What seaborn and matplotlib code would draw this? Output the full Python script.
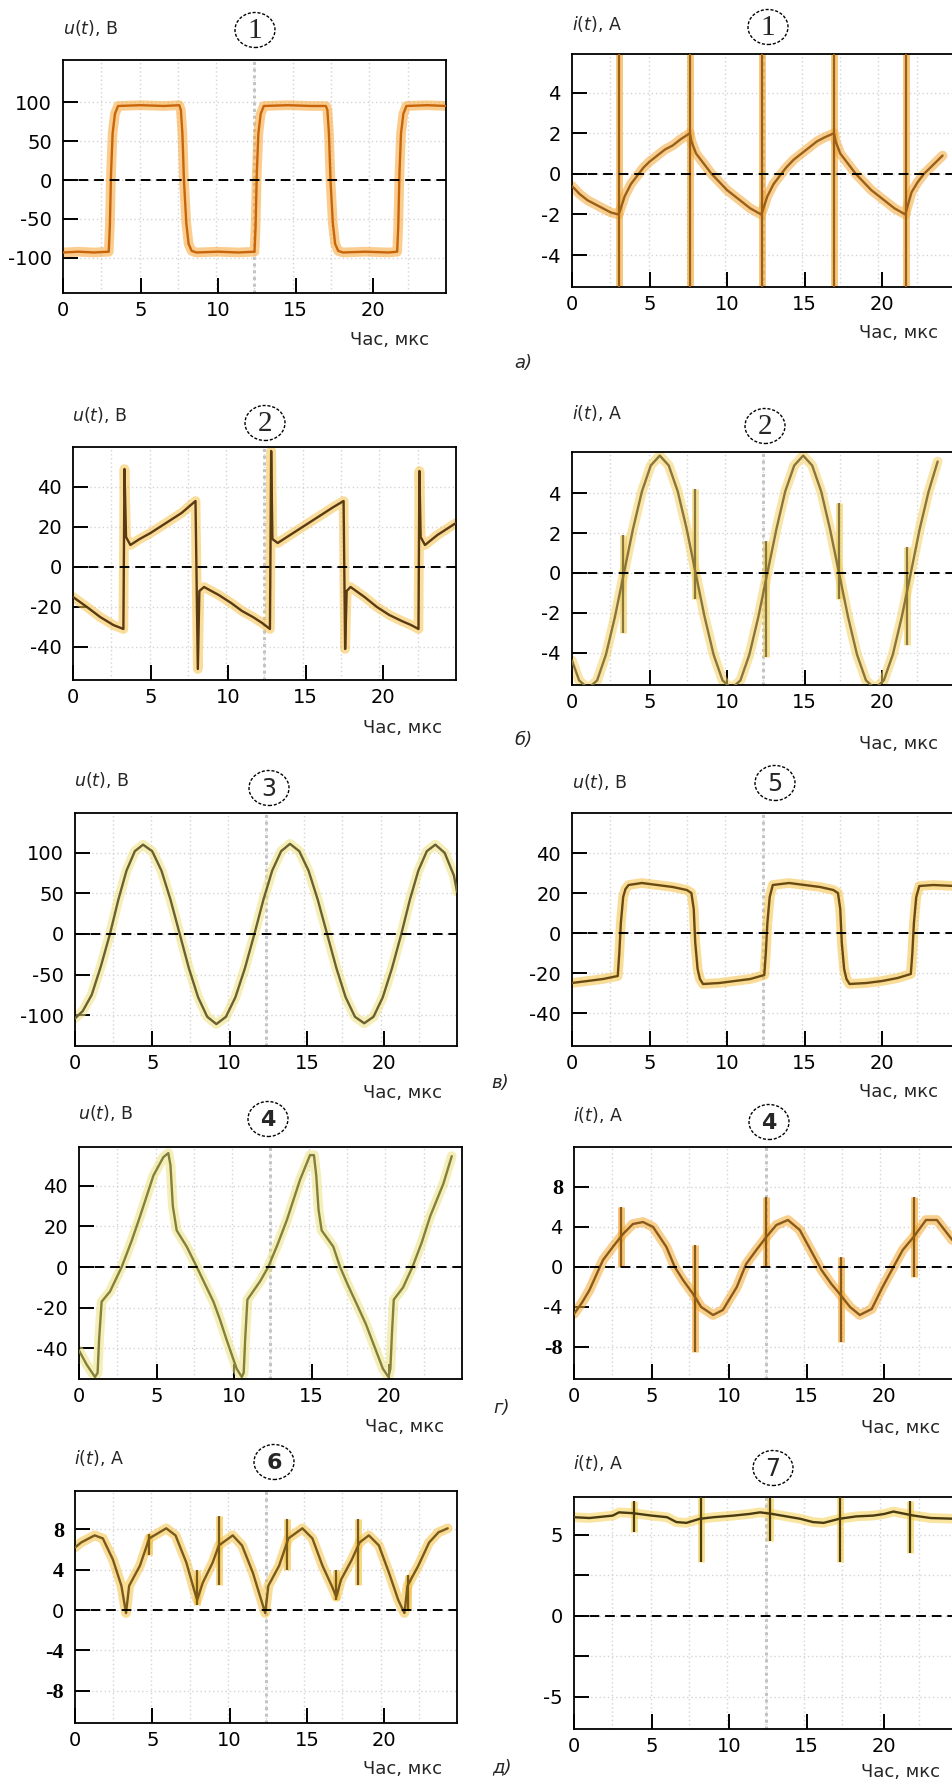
import numpy as np
import matplotlib
matplotlib.use("Agg")
import matplotlib.pyplot as plt
from matplotlib.patches import Ellipse
import seaborn as sns

# ---------------- data ----------------
x_ticks = [0, 5, 10, 15, 20]
x_ticklabels = ["0", "5", "10", "15", "20"]

# panel 1, u(t)
u1_t = [0.0, 1.0, 2.0, 2.95, 3.02, 3.1, 3.2, 3.35, 3.55, 5.0, 6.5, 7.5,
        7.6, 7.7, 7.8, 7.95, 8.1, 8.3, 8.6, 10.0, 11.3, 12.35,
        12.42, 12.5, 12.6, 12.75, 12.95, 14.5, 16.0, 16.95,
        17.05, 17.15, 17.25, 17.4, 17.55, 17.75, 18.05, 19.5, 21.0, 21.55,
        21.62, 21.7, 21.8, 21.95, 22.15, 23.5, 24.7]
u1_v = [-93, -92, -93, -92, -60, 10, 60, 85, 95, 96, 95, 96,
        90, 60, 0, -55, -82, -91, -93, -92, -93, -92,
        -60, 10, 60, 85, 95, 96, 95, 95,
        90, 60, 0, -55, -82, -91, -93, -92, -93, -92,
        -60, 10, 60, 85, 95, 96, 95]
u1_yticks = [-100, -50, 0, 50, 100]

# panel 1, i(t)
i1_t = [0.0, 0.5, 1.0, 1.5, 2.0, 2.5, 3.0,
        3.1, 3.4, 3.8, 4.2, 4.6, 5.0, 5.5, 6.0, 6.5, 7.0, 7.6,
        7.7, 8.0, 8.5, 9.0, 9.5, 10.0, 10.5, 11.0, 11.5, 12.2,
        12.3, 12.6, 13.0, 13.4, 13.8, 14.3, 14.8, 15.3, 15.8, 16.3, 16.9,
        17.0, 17.3, 17.8, 18.3, 18.8, 19.3, 19.8, 20.3, 20.8, 21.5,
        21.6, 21.9, 22.3, 22.7, 23.1, 23.5, 23.9]
i1_v = [-0.6, -1.0, -1.3, -1.5, -1.7, -1.9, -2.0,
        -1.8, -1.1, -0.5, -0.1, 0.3, 0.6, 0.9, 1.2, 1.4, 1.7, 2.0,
        1.6, 1.0, 0.5, 0.0, -0.4, -0.8, -1.1, -1.4, -1.7, -2.0,
        -1.8, -1.1, -0.5, -0.1, 0.3, 0.7, 1.0, 1.3, 1.6, 1.8, 2.0,
        1.6, 1.0, 0.5, 0.0, -0.4, -0.8, -1.1, -1.4, -1.7, -2.0,
        -1.7, -0.9, -0.4, 0.0, 0.3, 0.6, 0.9]
i1_spike_t = [3.03, 7.63, 12.26, 16.92, 21.56]
i1_spike_lo = [-7, -7, -7, -7, -7]
i1_spike_hi = [7, 7, 7, 7, 7]
i1_yticks = [-4, -2, 0, 2, 4]

# panel 2, u(t)
u2_t = [0.0, 0.9, 1.75, 2.6, 3.25,
        3.32, 3.42, 3.7, 4.3, 5.0, 6.0, 7.0, 7.9,
        8.05, 8.15, 8.45, 9.4, 10.2, 10.9, 11.6, 12.2, 12.7,
        12.78, 12.86, 13.2, 14.0, 15.0, 16.0, 16.8, 17.45,
        17.55, 17.65, 17.9, 18.8, 19.6, 20.4, 21.2, 21.8, 22.28,
        22.34, 22.42, 22.7, 23.5, 24.7]
u2_v = [-15, -20, -25, -29, -31,
        49, 15, 11, 14, 17, 22, 27, 33,
        -51, -12, -10, -14, -18, -22, -25, -28, -31,
        58, 14, 12, 16, 21, 26, 30, 33,
        -41, -12, -10, -15, -20, -24, -27, -29, -31,
        48, 15, 11, 16, 22]
u2_yticks = [-40, -20, 0, 20, 40]

# panel 2, i(t)
i2_t = [0.0, 0.46, 1.04, 1.62, 2.19, 2.77, 3.35, 3.93, 4.51, 5.08, 5.66,
        6.24, 6.82, 7.40, 7.97, 8.55, 9.13, 9.71, 10.29, 10.86, 11.44,
        12.02, 12.60, 13.18, 13.75, 14.33, 14.91, 15.49, 16.07, 16.64,
        17.22, 17.80, 18.38, 18.96, 19.53, 20.11, 20.69, 21.27, 21.85,
        22.42, 23.00, 23.58]
i2_v = [-4.4, -5.4, -5.8, -5.4, -4.1, -2.2, 0.0, 2.2, 4.1, 5.4, 5.9,
        5.4, 4.1, 2.2, 0.0, -2.2, -4.1, -5.4, -5.8, -5.4, -4.1,
        -2.2, 0.0, 2.2, 4.1, 5.4, 5.9, 5.4, 4.1, 2.2,
        0.0, -2.2, -4.1, -5.4, -5.8, -5.4, -4.1, -2.2, 0.0,
        2.2, 4.1, 5.6]
i2_spike_t = [3.3, 7.95, 12.5, 17.2, 21.6]
i2_spike_lo = [-3.0, -1.3, -4.2, -1.3, -3.6]
i2_spike_hi = [1.9, 4.2, 1.6, 3.5, 1.3]
i2_yticks = [-4, -2, 0, 2, 4]

# panel 3, u(t)
u3_t = [0.0, 0.5, 1.08, 1.67, 2.26, 2.80, 3.33, 3.87, 4.40, 4.99, 5.59,
        6.18, 6.77, 7.36, 7.96, 8.55, 9.14, 9.76, 10.37, 10.99, 11.60,
        12.18, 12.75, 13.33, 13.90, 14.50, 15.10, 15.70, 16.30, 16.90,
        17.50, 18.10, 18.70, 19.30, 19.90, 20.50, 21.10, 21.65, 22.20,
        22.75, 23.30, 23.90, 24.50, 24.70]
u3_v = [-104, -95, -75, -40, 0, 42, 78, 102, 110, 102, 78,
        42, 0, -42, -78, -102, -111, -102, -78, -42, 0,
        42, 78, 102, 111, 102, 78, 42, 0, -42,
        -78, -102, -110, -102, -78, -42, 0, 42, 78,
        102, 110, 100, 72, 52]
u3_yticks = [-100, -50, 0, 50, 100]

# panel 5, u(t)
u5_t = [0.0, 1.0, 2.0, 2.95, 3.05, 3.15, 3.3, 3.45, 3.65,
        4.5, 5.5, 6.5, 7.4, 7.7, 7.85, 7.95, 8.1, 8.25, 8.45,
        9.5, 10.5, 11.5, 12.4, 12.5, 12.6, 12.75, 12.95,
        14.0, 15.0, 16.0, 16.85, 17.15, 17.3, 17.4, 17.55, 17.7, 17.9,
        19.0, 20.0, 21.0, 21.85, 21.95, 22.05, 22.2, 22.4, 23.3, 24.7]
u5_v = [-25, -24, -23, -21.5, -10, 5, 18, 22, 24,
        25, 24, 23, 21.5, 20, 12, -5, -18, -23, -25.5,
        -25, -24, -23, -21, -10, 5, 18, 24,
        25, 24, 23, 21.5, 20, 12, -5, -18, -23, -25.5,
        -25, -24, -22.5, -20.5, -10, 5, 18, 23.5, 24, 23.5]
u5_yticks = [-40, -20, 0, 20, 40]

# panel 4, u(t)
u4_t = [0.0, 0.5, 1.03, 1.2, 1.3, 1.46, 2.0, 2.75, 3.4, 3.94, 4.8, 5.44,
        5.76, 5.9, 6.05, 6.3, 6.95, 7.6, 8.1, 8.67, 9.1, 9.53, 10.17, 10.5,
        10.62, 10.72, 10.86, 11.68, 12.2, 12.8, 13.4, 14.26, 14.9, 15.15,
        15.3, 15.45, 15.65, 16.4, 16.84, 17.35, 17.9, 18.5, 19.0, 19.6,
        19.96, 20.08, 20.18, 20.3, 20.9, 21.5, 22.1, 22.65, 23.5, 24.04]
u4_v = [-41, -48, -54, -52, -35, -17, -12, 0, 13, 25, 45, 54,
        56, 50, 30, 18, 10, 0, -8, -17, -26, -36, -50, -54,
        -52, -35, -16, -7, 0, 11, 23, 43, 55, 55,
        45, 28, 18, 10, 0, -9, -18, -28, -38, -50,
        -54, -50, -33, -16, -10, 0, 12, 25, 41, 54.5]
u4_yticks = [-40, -20, 0, 20, 40]

# panel 4, i(t)
i4_t = [0.0, 0.5, 1.0, 1.87, 2.5, 3.16, 3.8, 4.45, 5.1, 5.96,
        6.5, 7.03, 7.68, 8.2, 8.97, 9.6, 10.5, 11.1, 11.76, 12.4,
        13.05, 13.8, 14.56, 15.4, 15.96, 16.6, 17.14, 17.8, 18.43, 19.2,
        19.9, 20.6, 21.2, 21.9, 22.7, 23.4, 24.4]
i4_v = [-4.7, -3.6, -2.3, 0.7, 2.0, 3.3, 4.3, 4.5, 4.0, 2.0,
        0.0, -1.3, -2.7, -4.0, -4.8, -4.3, -2.0, 0.3, 1.7, 3.0,
        4.2, 4.7, 3.7, 1.3, -0.3, -1.7, -2.7, -4.0, -4.8, -4.2,
        -2.0, 0.0, 1.7, 3.0, 4.7, 4.7, 2.7]
i4_spike_t = [3.05, 7.8, 12.4, 17.2, 21.9]
i4_spike_lo = [0.0, -8.5, 0.0, -7.5, -1.0]
i4_spike_hi = [6.0, 2.2, 7.0, 1.0, 7.0]
i4_yticks = [-8, -4, 0, 4, 8]

# panel 6, i(t)
i6_t = [0.0, 0.4, 1.27, 1.8, 2.45, 3.0, 3.3, 3.5, 4.2, 4.8,
        5.9, 6.5, 7.2, 7.7, 7.9, 8.26, 8.9, 9.3, 10.2, 10.8,
        11.5, 12.1, 12.3, 12.5, 13.2, 13.8, 14.7, 15.35, 16.0, 16.6,
        16.9, 17.2, 17.9, 18.4, 19.0, 19.65, 20.3, 20.9, 21.3, 21.5,
        22.2, 22.9, 23.5, 24.1]
i6_v = [6.2, 6.7, 7.4, 7.1, 5.0, 2.4, -0.3, 2.4, 4.4, 7.1,
        8.1, 7.4, 4.7, 2.0, 1.0, 2.7, 4.7, 6.4, 7.4, 6.4,
        3.7, 0.7, -0.3, 2.4, 4.4, 7.1, 8.1, 7.1, 4.4, 2.4,
        1.3, 3.0, 5.0, 6.7, 7.4, 6.4, 3.7, 1.0, -0.3, 2.4,
        4.4, 6.7, 7.7, 8.1]
i6_spike_t = [4.8, 7.9, 9.33, 13.7, 16.9, 18.3, 21.5]
i6_spike_lo = [5.5, 0.5, 2.5, 4.0, 1.0, 2.5, 0.0]
i6_spike_hi = [7.5, 4.0, 9.3, 9.0, 4.0, 9.0, 3.5]
i6_yticks = [-8, -4, 0, 4, 8]

# panel 7, i(t)
i7_t = [0.0, 1.0, 2.0, 2.5, 2.9, 3.8, 5.0, 6.0, 6.6, 7.25,
        8.1, 9.0, 10.3, 11.3, 12.0, 12.8, 13.7, 14.6, 15.4, 16.1,
        17.1, 18.2, 19.3, 20.0, 20.6, 21.9, 23.0, 24.7]
i7_v = [6.1, 6.05, 6.15, 6.2, 6.4, 6.35, 6.2, 6.1, 5.8, 5.75,
        6.0, 6.1, 6.2, 6.3, 6.4, 6.3, 6.15, 6.0, 5.8, 5.75,
        6.0, 6.15, 6.2, 6.3, 6.45, 6.2, 6.05, 6.0]
i7_spike_t = [3.85, 8.2, 12.67, 17.14, 21.7]
i7_spike_lo = [5.2, 3.3, 4.6, 3.3, 3.9]
i7_spike_hi = [7.1, 7.8, 7.3, 7.8, 7.1]
i7_yticks = [-5, -2.5, 0, 2.5, 5]
i7_yticklabels = ["-5", "", "0", "", "5"]

x_label = "Час, мкс"
u_label = r"$\mathit{u(t)}$, В"
i_label = r"$\mathit{i(t)}$, А"

# ---------------- figure ----------------
sns.set_style("white")
plt.rcParams['font.family'] = ['DejaVu Sans']
plt.rcParams['mathtext.fontset'] = 'dejavusans'

W, H = 953, 1787
fig = plt.figure(figsize=(W / 100, H / 100), dpi=100)
fig.patch.set_facecolor("white")

XMAX = 24.7
grid_x = np.linspace(0, XMAX, 11)[1:-1]


def px_axes(l, t, r, b):
    return fig.add_axes([l / W, 1 - b / H, (r - l) / W, (b - t) / H])


def ftext(x, y, s, **kw):
    fig.text(x / W, 1 - y / H, s, **kw)


def circled(x, y, s, family="DejaVu Sans", size=16, weight="normal"):
    e = Ellipse((x / W, 1 - y / H), 40 / W, 35 / H, transform=fig.transFigure,
                fill=False, ec="black", lw=1.0, ls=(0, (2.2, 1.3)))
    fig.add_artist(e)
    ftext(x, y + 1, s, ha="center", va="center", fontsize=size,
          family=family, weight=weight)


def panel(box, t, v, ylim, yticks, glow, core, ytl=None, spikes=None,
          bold_labels=()):
    ax = px_axes(*box)
    ax.set_facecolor("white")
    for gx in grid_x:
        ax.axvline(gx, color="#d4d4d4", ls=(0, (1, 2)), lw=1.0, zorder=0)
    ax.axvline(XMAX / 2, color="#c4c4c4", ls=(0, (1, 1.2)), lw=2.2, zorder=0)
    for gy in yticks:
        ax.axhline(gy, color="#d4d4d4", ls=(0, (1, 2)), lw=1.0, zorder=0)
    if spikes is not None:
        st, lo, hi = spikes
        ax.vlines(st, lo, hi, colors=glow, lw=5, alpha=0.65, zorder=2)
        ax.vlines(st, lo, hi, colors=core, lw=1.6, zorder=3)
    sns.lineplot(x=t, y=v, ax=ax, color=glow, lw=7, alpha=0.55,
                 sort=False, estimator=None, zorder=2)
    sns.lineplot(x=t, y=v, ax=ax, color=core, lw=1.7,
                 sort=False, estimator=None, zorder=3)
    ax.axhline(0, color="black", ls=(0, (5, 3)), lw=1.4, zorder=5)
    ax.set_xlim(0, XMAX)
    ax.set_ylim(*ylim)
    ax.set_xticks(x_ticks)
    ax.set_xticklabels(x_ticklabels)
    ax.set_yticks(yticks)
    labels = ytl if ytl is not None else [("%g" % y) for y in yticks]
    ax.set_yticklabels(labels)
    ax.set_xlabel("")
    ax.set_ylabel("")
    ax.tick_params(direction="in", length=11, width=1.4, pad=8,
                   labelsize=14, left=True, bottom=True, top=False,
                   right=False, colors="black")
    ax.tick_params(axis="x", pad=6)
    for lab in ax.get_yticklabels():
        if lab.get_text() in bold_labels:
            lab.set_family("Liberation Serif")
            lab.set_weight("bold")
            lab.set_fontsize(16)
    for s in ax.spines.values():
        s.set_linewidth(1.3)
        s.set_color("black")
        s.set_visible(True)
    return ax


# ---- row a) ----
panel((63, 60, 446, 293), u1_t, u1_v, (-145, 154), u1_yticks,
      "#f7a531", "#c8650a")
ftext(63, 28, u_label, ha="left", va="center", fontsize=12.5)
circled(255, 30, "1", family="Liberation Serif", size=21)
ftext(390, 340, x_label, ha="center", va="center", fontsize=13)

panel((572, 54, 955, 287), i1_t, i1_v, (-5.57, 5.9), i1_yticks,
      "#f5a838", "#9a6018",
      spikes=(i1_spike_t, i1_spike_lo, i1_spike_hi))
ftext(572, 24, i_label, ha="left", va="center", fontsize=12.5)
circled(768, 27, "1", family="Liberation Serif", size=21)
ftext(899, 333, x_label, ha="center", va="center", fontsize=13)
ftext(523, 363, "а)", ha="center", va="center", fontsize=13, style="italic")

# ---- row б) ----
panel((73, 447, 456, 680), u2_t, u2_v, (-56.5, 60), u2_yticks,
      "#f6c24a", "#5a3a10")
ftext(72, 415, u_label, ha="left", va="center", fontsize=12.5)
circled(265, 423, "2", family="Liberation Serif", size=21)
ftext(403, 728, x_label, ha="center", va="center", fontsize=13)

panel((572, 452, 955, 685), i2_t, i2_v, (-5.63, 6.08), i2_yticks,
      "#f3d060", "#8a7638",
      spikes=(i2_spike_t, i2_spike_lo, i2_spike_hi))
ftext(572, 413, i_label, ha="left", va="center", fontsize=12.5)
circled(765, 426, "2", family="Liberation Serif", size=21)
ftext(899, 744, x_label, ha="center", va="center", fontsize=13)
ftext(523, 740, "б)", ha="center", va="center", fontsize=13, style="italic")

# ---- row в) ----
panel((75, 813, 457, 1046), u3_t, u3_v, (-138, 149), u3_yticks,
      "#efe07c", "#6a6030")
ftext(74, 780, u_label, ha="left", va="center", fontsize=12.5)
circled(269, 788, "3", size=17)
ftext(403, 1093, x_label, ha="center", va="center", fontsize=13)

panel((572, 813, 955, 1046), u5_t, u5_v, (-56.5, 60), u5_yticks,
      "#f5c040", "#6a4a10")
ftext(572, 782, u_label, ha="left", va="center", fontsize=12.5)
circled(775, 783, "5", size=17)
ftext(899, 1092, x_label, ha="center", va="center", fontsize=13)
ftext(500, 1083, "в)", ha="center", va="center", fontsize=13, style="italic")

# ---- row г) ----
panel((79, 1147, 462, 1379), u4_t, u4_v, (-55, 59), u4_yticks,
      "#ece27e", "#84803c")
ftext(78, 1113, u_label, ha="left", va="center", fontsize=12.5)
circled(268, 1119, "4", size=16, weight="bold")
ftext(405, 1427, x_label, ha="center", va="center", fontsize=13)

panel((574, 1147, 957, 1379), i4_t, i4_v, (-11.2, 12), i4_yticks,
      "#f5a830", "#8a5a18",
      spikes=(i4_spike_t, i4_spike_lo, i4_spike_hi),
      bold_labels=("8", "-8"))
ftext(573, 1115, i_label, ha="left", va="center", fontsize=12.5)
circled(769, 1122, "4", size=16, weight="bold")
ftext(901, 1428, x_label, ha="center", va="center", fontsize=13)
ftext(502, 1408, "г)", ha="center", va="center", fontsize=13, style="italic")

# ---- row д) ----
panel((75, 1491, 457, 1723), i6_t, i6_v, (-11.2, 11.8), i6_yticks,
      "#f5c040", "#7a5a18",
      spikes=(i6_spike_t, i6_spike_lo, i6_spike_hi),
      bold_labels=("8", "4", "-4", "-8"))
ftext(74, 1458, i_label, ha="left", va="center", fontsize=12.5)
circled(274, 1462, "6", size=16, weight="bold")
ftext(403, 1769, x_label, ha="center", va="center", fontsize=13)

panel((574, 1497, 957, 1729), i7_t, i7_v, (-7.0, 7.35), i7_yticks,
      "#f5d050", "#4a3a10", ytl=i7_yticklabels,
      spikes=(i7_spike_t, i7_spike_lo, i7_spike_hi))
ftext(573, 1463, i_label, ha="left", va="center", fontsize=12.5)
circled(773, 1468, "7", size=17)
ftext(901, 1772, x_label, ha="center", va="center", fontsize=13)
ftext(502, 1767, "д)", ha="center", va="center", fontsize=13, style="italic")

fig.savefig("out.png", dpi=100, facecolor="white")
